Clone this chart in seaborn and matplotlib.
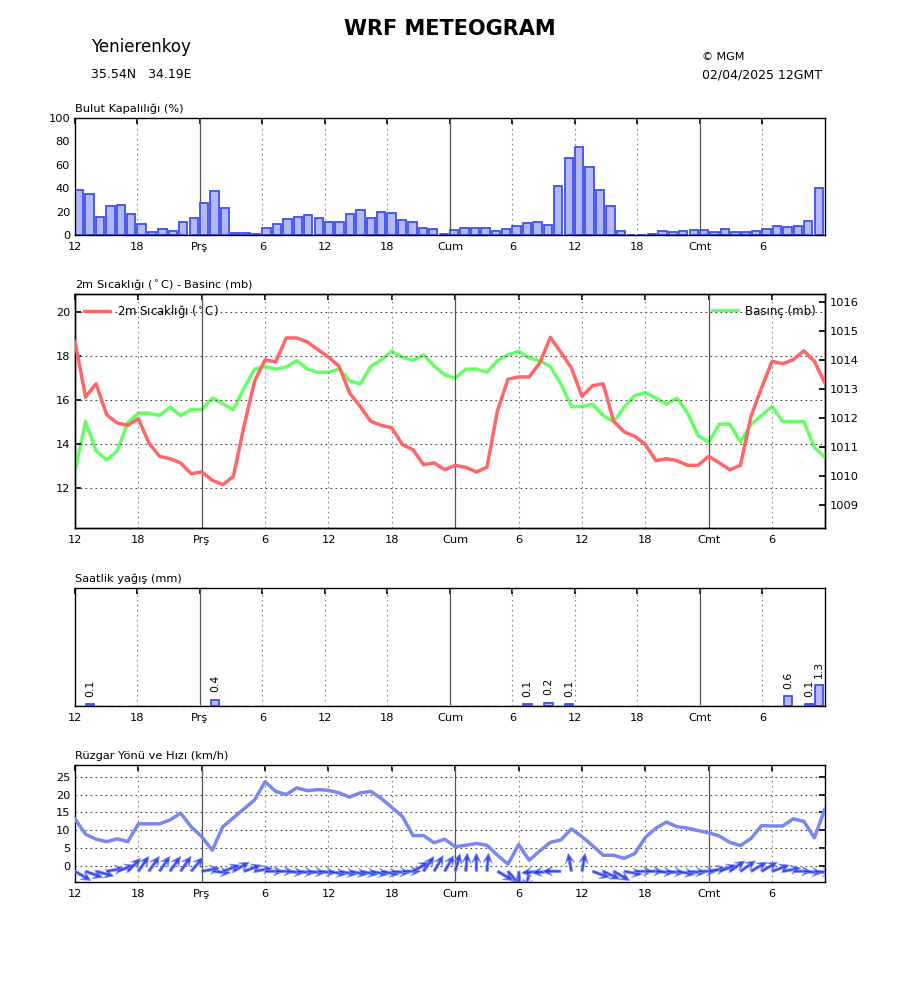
import numpy as np
import pandas as pd
import matplotlib
matplotlib.use('Agg')
import matplotlib.pyplot as plt
import seaborn as sns

# saatlik veriler (0 = 12GMT baslangic)
hours = np.arange(72)

cloud = [38.6, 35.1, 15.4, 24.6, 25.4, 17.7, 9.1, 2.3, 4.9, 3.1, 10.9, 14.6,
         27.1, 37.4, 22.9, 1.4, 1.4, 0.9, 5.7, 9.1, 13.4, 15.1, 16.9, 14.3,
         10.9, 10.9, 17.7, 21.4, 14.3, 19.4, 18.6, 12.6, 10.9, 5.7, 4.9, 0.9,
         4.0, 6.0, 6.0, 6.0, 3.1, 4.9, 7.7, 10.0, 10.9, 8.6, 42.0, 66.0,
         75.1, 58.0, 38.6, 24.6, 3.1, 0.0, 0.0, 0.6, 3.1, 2.3, 3.1, 4.0,
         4.0, 2.3, 4.9, 2.3, 2.3, 3.1, 4.9, 7.4, 6.9, 7.4, 11.7, 40.0]

temp = [18.67, 16.14, 16.74, 15.33, 14.95, 14.85, 15.15, 14.05, 13.44, 13.33, 13.14, 12.65,
        12.73, 12.35, 12.15, 12.53, 14.8, 16.85, 17.83, 17.73, 18.82, 18.82, 18.64, 18.29,
        17.95, 17.53, 16.32, 15.71, 15.03, 14.85, 14.73, 13.97, 13.74, 13.06, 13.14, 12.83,
        13.03, 12.94, 12.73, 12.94, 15.52, 16.95, 17.05, 17.05, 17.68, 18.85, 18.17, 17.45,
        16.17, 16.65, 16.74, 15.03, 14.55, 14.35, 13.97, 13.24, 13.33, 13.24, 13.03, 13.03,
        13.44, 13.14, 12.83, 13.03, 15.26, 16.55, 17.76, 17.65, 17.83, 18.24, 17.76, 16.77]

pressure = [1010.15, 1011.87, 1010.86, 1010.55, 1010.86, 1011.84, 1012.16, 1012.16, 1012.08, 1012.37,
            1012.08, 1012.28, 1012.28, 1012.68, 1012.48, 1012.28, 1013.02, 1013.68, 1013.77, 1013.68,
            1013.75, 1013.97, 1013.68, 1013.57, 1013.57, 1013.68, 1013.28, 1013.17, 1013.77, 1014.0,
            1014.29, 1014.09, 1013.98, 1014.17, 1013.79, 1013.48, 1013.37, 1013.68, 1013.68, 1013.57,
            1013.97, 1014.17, 1014.29, 1014.06, 1013.97, 1013.77, 1013.17, 1012.39, 1012.39, 1012.47,
            1012.08, 1011.87, 1012.37, 1012.77, 1012.87, 1012.68, 1012.47, 1012.68, 1012.16, 1011.38,
            1011.16, 1011.78, 1011.78, 1011.16, 1011.78, 1012.08, 1012.39, 1011.87, 1011.87, 1011.87,
            1010.98, 1010.64]

rain = [0.0] * 72
rain[1] = 0.1
rain[13] = 0.4
rain[43] = 0.1
rain[45] = 0.2
rain[47] = 0.1
rain[68] = 0.6
rain[70] = 0.1
rain[71] = 1.3

wind_speed = [13.2, 8.9, 7.5, 6.8, 7.6, 6.8, 11.8, 11.8, 11.8, 12.9, 14.8, 11.0,
              8.2, 4.4, 11.0, 13.5, 16.0, 18.5, 23.6, 20.9, 20.0, 21.9, 21.1, 21.4,
              21.2, 20.5, 19.3, 20.5, 20.9, 18.9, 16.4, 13.9, 8.5, 8.5, 6.5, 7.5,
              5.4, 5.8, 6.3, 5.8, 3.0, 0.5, 6.0, 1.6, 4.2, 6.6, 7.3, 10.4,
              8.2, 5.7, 3.0, 3.0, 2.1, 3.5, 8.0, 10.6, 12.3, 11.0, 10.6, 9.9,
              9.3, 8.4, 6.6, 5.7, 7.7, 11.3, 11.2, 11.2, 13.2, 12.5, 7.9, 16.0]

# ok yonu (derece, 0 = dogu, 90 = kuzey)
wind_dir_deg = [-30, -20, -15, 10, 20, 45, 55, 55, 55, 55, 55, 50,
                10, -5, 20, 30, 20, 10, 0, 0, -5, -5, -5, -5,
                -10, -10, -10, -10, -10, -10, -5, 0, 30, 55, 60, 60,
                75, 85, 90, 85, -30, -50, -85, -100, 185, 185, 180, 100,
                80, -20, -25, -30, -10, 0, 0, -5, -5, -10, -5, 0,
                10, 20, 35, 35, 30, 30, 20, 10, 0, -5, -5, 0]

tick_hours = [0, 6, 12, 18, 24, 30, 36, 42, 48, 54, 60, 66]
tick_labels = ['12', '18', 'Prş', '6', '12', '18', 'Cum', '6', '12', '18', 'Cmt', '6']
day_hours = [12, 36, 60]

df = pd.DataFrame({'saat': hours, 'bulut': cloud, 'sicaklik': temp, 'basinc': pressure,
                   'yagis': rain, 'ruzgar': wind_speed})

sns.set_theme(style='white')
plt.rcParams['font.family'] = ['DejaVu Sans']
plt.rcParams.update({
    'xtick.direction': 'in', 'ytick.direction': 'in',
    'xtick.top': True, 'ytick.right': True,
    'xtick.major.size': 4, 'ytick.major.size': 4,
    'xtick.labelsize': 8.2, 'ytick.labelsize': 8.2,
    'axes.edgecolor': 'black', 'axes.linewidth': 1.0,
    'xtick.color': 'black', 'ytick.color': 'black',
    'text.color': 'black', 'axes.labelcolor': 'black',
})

BAR_FACE = '#b3b9f5'
BAR_EDGE = '#3f4ff0'


def time_axis(ax, xmax):
    ax.set_xlim(0, xmax)
    ax.set_xticks(tick_hours)
    ax.set_xticklabels(tick_labels)
    ax.tick_params(axis='x', pad=5)
    for h in tick_hours:
        if h in day_hours:
            ax.axvline(h, color='#555555', lw=0.9, zorder=1)
        elif h != 0:
            ax.axvline(h, color='#888888', lw=0.8, ls=(0, (1.5, 3)), zorder=1)
    ax.set_xlabel('')
    ax.set_ylabel('')


def panel_title(ax, text):
    ax.annotate(text, xy=(0, 1), xycoords='axes fraction', xytext=(0, 4.5),
                textcoords='offset points', ha='left', va='baseline', fontsize=8.2)


fig = plt.figure(figsize=(9, 10), dpi=100)

fig.text(0.5, 0.971, 'WRF METEOGRAM', ha='center', va='center', fontsize=15, fontweight='bold')
fig.text(0.101, 0.953, 'Yenierenkoy', ha='left', va='center', fontsize=12)
fig.text(0.101, 0.926, '35.54N   34.19E', ha='left', va='center', fontsize=9)
fig.text(0.780, 0.943, '© MGM', ha='left', va='center', fontsize=8)
fig.text(0.780, 0.925, '02/04/2025 12GMT', ha='left', va='center', fontsize=9)

# Bulut
ax1 = fig.add_axes([0.0833, 0.765, 0.8333, 0.117])
ax1.bar(df['saat'], df['bulut'], width=0.8, align='edge', color=BAR_FACE,
        edgecolor=BAR_EDGE, linewidth=1.3, zorder=2)
ax1.set_ylim(0, 100)
ax1.set_yticks([0, 20, 40, 60, 80, 100])
ax1.tick_params(axis='y', right=False)
time_axis(ax1, 72)
panel_title(ax1, 'Bulut Kapalılığı (%)')

# Sicaklik - basinc
ax2 = fig.add_axes([0.0833, 0.472, 0.8333, 0.234])
for y in [12, 14, 16, 18, 20]:
    ax2.axhline(y, color='#444444', lw=0.8, ls=(0, (1.5, 3)), zorder=1)
ax3 = ax2.twinx()
sns.lineplot(data=df, x='saat', y='basinc', ax=ax3, color='#66ff66', lw=2.5,
             label='Basınç (mb)', zorder=3)
sns.lineplot(data=df, x='saat', y='sicaklik', ax=ax2, color='#ff6666', lw=2.5,
             label='2m Sıcaklığı ($^\\circ$C)', zorder=3)
time_axis(ax2, 71)
ax2.set_ylim(10.18, 20.82)
ax2.set_yticks([12, 14, 16, 18, 20])
ax3.set_ylim(1008.2, 1016.27)
ax3.set_yticks(range(1009, 1017))
ax3.tick_params(axis='y', direction='in', labelsize=8.2)
ax3.set_xlim(0, 71)
ax3.set_ylabel('')
ax3.set_xlabel('')
ax2.set_zorder(ax3.get_zorder() + 1)
ax2.patch.set_visible(False)
ax2.tick_params(axis='y', right=False)
ax2.legend(loc='upper left', frameon=False, fontsize=8.5, handlelength=2.2,
           handletextpad=0.6, borderaxespad=0.4, bbox_to_anchor=(0.0, 1.0))
ax3.legend(loc='upper right', frameon=False, fontsize=8.5, handlelength=2.2,
           handletextpad=0.6, borderaxespad=0.4, bbox_to_anchor=(1.0, 0.995))
panel_title(ax2, '2m Sıcaklığı ($^\\circ$C) - Basinc (mb)')

# Yagis
ax4 = fig.add_axes([0.0833, 0.294, 0.8333, 0.118])
rain_edges = [BAR_EDGE if v > 0 else '#d5d9f8' for v in rain]
ax4.bar(df['saat'] + 0.05, df['yagis'], width=0.8, align='edge', color=BAR_FACE,
        edgecolor=rain_edges, linewidth=1.3, zorder=2)
for h, v in zip(hours, rain):
    if v > 0:
        ax4.text(h + 0.45, v + 0.45, f'{v:.1f}', rotation=90, ha='center', va='bottom',
                 fontsize=7.8)
ax4.set_ylim(0, 7.3)
ax4.set_yticks(range(1, 8))
ax4.set_yticklabels([])
ax4.tick_params(axis='y', right=False)
time_axis(ax4, 72)
panel_title(ax4, 'Saatlik yağış (mm)')

# Ruzgar
ax5 = fig.add_axes([0.0833, 0.118, 0.8333, 0.117])
for y in [0, 5, 10, 15, 20, 25]:
    ax5.axhline(y, color='#444444', lw=0.8, ls=(0, (1.5, 3)), zorder=1)
sns.lineplot(data=df, x='saat', y='ruzgar', ax=ax5, color='#7888ee', lw=2.5, zorder=3)
ang = np.deg2rad(wind_dir_deg)
ax5.quiver(hours, np.full(72, -1.5), np.cos(ang), np.sin(ang), color='#2436ee', alpha=0.9,
           angles='uv', scale_units='inches', scale=5.5, width=0.0034,
           headwidth=3.6, headlength=3.8, headaxislength=2.6,
           edgecolor='#7d8cf5', linewidth=0.6, zorder=4)
ax5.set_ylim(-4.5, 28.3)
ax5.set_yticks([0, 5, 10, 15, 20, 25])
time_axis(ax5, 71)
panel_title(ax5, 'Rüzgar Yönü ve Hızı (km/h)')

fig.savefig('out.png', dpi=100)
